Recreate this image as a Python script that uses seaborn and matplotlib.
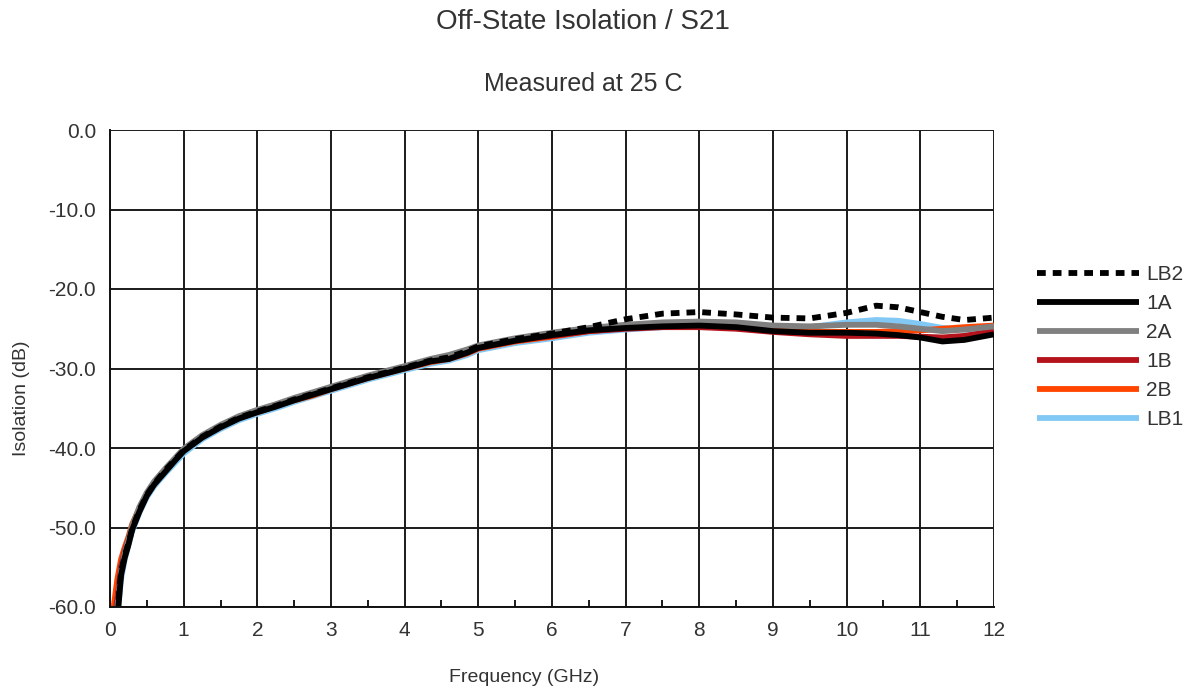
import matplotlib
matplotlib.use("Agg")
import matplotlib.pyplot as plt
from matplotlib.lines import Line2D
from matplotlib.ticker import MultipleLocator, FormatStrFormatter
import seaborn as sns
import pandas as pd

# Frequency points (GHz)
freq = [0.05, 0.1, 0.15, 0.2, 0.25, 0.3, 0.4, 0.5, 0.6, 0.75, 0.9, 1.0, 1.25, 1.5,
        1.75, 2.0, 2.25, 2.5, 2.75, 3.0, 3.5, 4.0, 4.35, 4.6, 4.85, 5.0, 5.5, 6.0,
        6.5, 7.0, 7.5, 8.0, 8.5, 9.0, 9.5, 10.0, 10.4, 10.7, 11.0, 11.3, 11.6, 12.0]

# Isolation (dB) per channel
lb2 = [-63.0, -60.5, -55.5, -53.5, -52.0, -50.2, -47.8, -45.9, -44.5, -42.8, -41.3, -40.3, -38.6, -37.3,
       -36.2, -35.4, -34.7, -33.9, -33.2, -32.5, -31.1, -29.9, -29.0, -28.6, -27.8, -27.2, -26.3, -25.6,
       -24.8, -23.8, -23.1, -22.9, -23.2, -23.6, -23.7, -23.0, -22.1, -22.3, -22.9, -23.5, -23.9, -23.6]
ch_1a = [-64.0, -61.5, -56.0, -53.8, -52.2, -50.3, -48.0, -46.0, -44.6, -43.0, -41.4, -40.4, -38.7, -37.4,
         -36.3, -35.5, -34.8, -34.0, -33.3, -32.6, -31.2, -30.0, -29.1, -28.8, -28.0, -27.4, -26.5, -25.8,
         -25.2, -24.9, -24.7, -24.6, -24.8, -25.3, -25.5, -25.5, -25.6, -25.8, -26.1, -26.6, -26.4, -25.7]
ch_2a = [-63.0, -60.0, -55.5, -53.2, -51.6, -49.8, -47.4, -45.6, -44.2, -42.6, -41.1, -40.1, -38.4, -37.1,
         -36.0, -35.2, -34.5, -33.7, -33.0, -32.3, -30.9, -29.7, -28.8, -28.3, -27.6, -27.1, -26.2, -25.5,
         -24.9, -24.5, -24.2, -24.1, -24.2, -24.6, -24.7, -24.5, -24.5, -24.7, -25.0, -25.3, -25.1, -24.7]
ch_1b = [-62.0, -59.0, -55.0, -53.0, -51.5, -50.0, -47.7, -45.8, -44.4, -42.8, -41.2, -40.2, -38.5, -37.2,
         -36.1, -35.4, -34.6, -33.9, -33.2, -32.5, -31.1, -29.9, -29.1, -28.7, -28.0, -27.4, -26.5, -25.9,
         -25.3, -25.0, -24.8, -24.8, -25.0, -25.4, -25.7, -25.9, -25.9, -25.9, -26.0, -26.1, -25.9, -25.3]
ch_2b = [-60.0, -56.5, -54.0, -52.5, -51.2, -49.6, -47.6, -45.9, -44.5, -42.9, -41.3, -40.3, -38.6, -37.3,
         -36.2, -35.5, -34.7, -34.0, -33.4, -32.6, -31.2, -30.0, -29.2, -28.8, -28.1, -27.5, -26.6, -26.0,
         -25.3, -24.9, -24.7, -24.6, -24.8, -25.2, -25.4, -25.4, -25.4, -25.3, -25.2, -25.0, -24.8, -24.6]
lb1 = [-64.0, -61.0, -56.5, -54.0, -52.2, -50.5, -48.1, -46.2, -44.8, -43.2, -41.7, -40.7, -38.9, -37.6,
       -36.5, -35.7, -35.0, -34.2, -33.5, -32.8, -31.4, -30.2, -29.4, -29.0, -28.3, -27.7, -26.8, -26.2,
       -25.5, -25.1, -24.8, -24.6, -24.6, -24.9, -24.8, -24.2, -23.9, -24.0, -24.4, -24.9, -25.1, -25.0]

series_names = ["LB2", "1A", "2A", "1B", "2B", "LB1"]
series_values = [lb2, ch_1a, ch_2a, ch_1b, ch_2b, lb1]
colors = {"LB2": "#000000", "1A": "#000000", "2A": "#808080",
          "1B": "#b5121b", "2B": "#ff4500", "LB1": "#82c8f5"}

x_ticks = list(range(0, 13))
y_ticks = [0, -10, -20, -30, -40, -50, -60]

df = pd.concat(
    [pd.DataFrame({"Frequency": freq, "Isolation": vals, "Series": name})
     for name, vals in zip(series_names, series_values)],
    ignore_index=True,
)

sns.set_style("white")
plt.rcParams["font.family"] = ["Liberation Sans", "DejaVu Sans"]
text_color = "#333333"

fig = plt.figure(figsize=(11.96, 6.94), dpi=100)
ax = fig.add_axes([110 / 1196, 1 - 607 / 694, (994 - 110) / 1196, (607 - 130) / 694])

lw = 4.2
dot_dash = (1.5, 1.2)
draw_order = series_names[::-1]  # LB2 ends up on top
sns.lineplot(
    data=df, x="Frequency", y="Isolation", hue="Series", style="Series",
    hue_order=draw_order, style_order=draw_order, palette=colors,
    dashes={n: (dot_dash if n == "LB2" else "") for n in series_names},
    linewidth=lw, legend=False, ax=ax, sort=False,
)
for line in ax.get_lines():
    line.set_solid_capstyle("butt")
    line.set_dash_capstyle("butt")
    line.set_clip_on(True)

ax.set_xlim(0, 12)
ax.set_ylim(-60, 0)
ax.set_xticks(x_ticks)
ax.set_yticks(y_ticks)
ax.yaxis.set_major_formatter(FormatStrFormatter("%.1f"))
ax.xaxis.set_minor_locator(MultipleLocator(0.5))
ax.grid(True, which="major", color="#1a1a1a", linewidth=1.4)
ax.set_axisbelow(True)
for side, sp in ax.spines.items():
    sp.set_visible(side in ("left", "bottom"))
    sp.set_color("#111111")
    sp.set_linewidth(1.4)
ax.tick_params(axis="both", which="major", direction="out", length=6, width=1.4,
               color="#1a1a1a", labelsize=15, labelcolor=text_color, pad=4)
ax.tick_params(axis="x", which="minor", direction="in", length=5, width=1.4,
               color="#1a1a1a", bottom=True)
ax.tick_params(axis="y", which="minor", left=False)
ax.set_xlabel("")
ax.set_ylabel("")

fig.text(583 / 1196, 1 - 22 / 694, "Off-State Isolation / S21", ha="center", va="center",
         fontsize=20, color=text_color)
fig.text(583 / 1196, 1 - 84 / 694, "Measured at 25 C", ha="center", va="center",
         fontsize=18, color=text_color)
fig.text(524 / 1196, 1 - 677 / 694, "Frequency (GHz)", ha="center", va="center",
         fontsize=14, color=text_color)
fig.text(22 / 1196, 1 - 398 / 694, "Isolation (dB)", ha="center", va="center",
         rotation=90, fontsize=14, color=text_color)

handles = [
    Line2D([], [], color=colors[n], linewidth=lw,
           linestyle=((0, dot_dash) if n == "LB2" else "-"),
           solid_capstyle="butt", dash_capstyle="butt")
    for n in series_names
]
leg = fig.legend(handles, series_names, loc="center left",
                 bbox_to_anchor=(1037 / 1196, 1 - 347 / 694), frameon=False,
                 fontsize=15, handlelength=4.9, handletextpad=0.35,
                 labelspacing=0.48, borderpad=0, borderaxespad=0)
for t in leg.get_texts():
    t.set_color(text_color)

fig.savefig("out.png", dpi=100)
